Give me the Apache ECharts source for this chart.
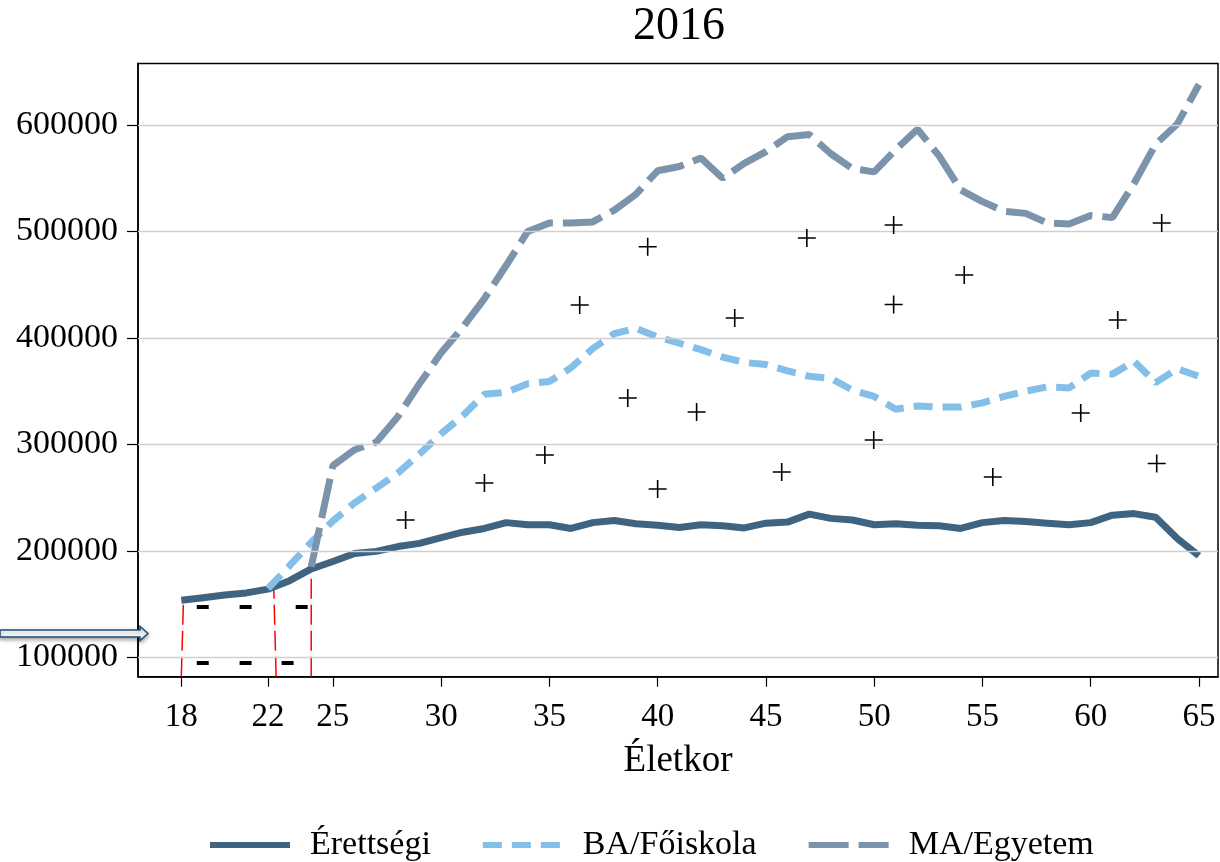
<!DOCTYPE html>
<html>
<head>
<meta charset="utf-8">
<script src="https://cdn.jsdelivr.net/npm/echarts@6/dist/echarts.min.js"></script>
<style>
html,body{margin:0;padding:0;background:#fff}
#chart_container{width:1220px;height:862px}
</style>
</head>
<body>
<div id="chart_container"></div>
<script>
// életkor 18..65
var ages = [18,19,20,21,22,23,24,25,26,27,28,29,30,31,32,33,34,35,36,37,38,39,40,41,
            42,43,44,45,46,47,48,49,50,51,52,53,54,55,56,57,58,59,60,61,62,63,64,65];

var erettsegi = [153500,156000,158500,160500,164000,172000,183000,190000,197500,199500,204000,207000,
                 212500,217500,221000,226500,224500,224500,221000,226500,228500,225500,224000,222000,
                 224500,223500,221500,226000,227000,234500,230500,229000,224500,225500,224000,223500,
                 221000,226500,228500,227500,226000,224500,226500,233500,235000,231500,211500,195500];

var foiskola = [null,null,null,null,164500,186000,208000,228000,245000,259000,273000,291000,
                310000,327000,347000,349000,357000,359000,372000,390000,404000,409000,401000,395000,
                389000,382000,377000,375000,369000,364000,362000,351000,345000,333000,336000,335000,
                335000,339000,345000,350000,354000,353000,367000,366000,378000,358000,371000,364000];

var egyetem = [null,null,null,null,null,null,185000,280000,295000,302000,326000,357000,
               386000,410000,437000,468000,500000,508000,508000,509000,520000,535000,557000,561000,
               569000,550000,564000,575000,589000,591000,573000,559000,556000,577000,596000,571000,
               539000,528000,519000,517000,508000,507000,515000,513000,545000,582000,601000,638000];

// + jelek
var plusAge = [28.36,32.0,34.79,36.4,38.62,39.54,40.0,41.8,43.56,45.73,46.89,49.98,50.9,50.9,
               54.16,55.48,59.54,61.25,63.05,63.28];
var plusVal = [229000,263700,290000,430900,343600,485700,258100,330400,418700,274100,493900,304100,
               506100,431400,459100,269400,329500,416800,282000,508000];

// fekete kis vonalkák
var dashAge = [18.99,20.97,23.56,18.99,20.97,22.91];
var dashVal = [147250,147250,147250,94650,94650,94650];

// piros függőleges segédvonalak
var dropBottomAge = [18.0,22.38,24.0];
var dropTopAge = [18.1,22.27,24.0];
var dropTopVal = [153500,165000,180000];

var xTicks = [18,22,25,30,35,40,45,50,55,60,65];
var yTicks = [100000,200000,300000,400000,500000,600000];
var yMin = 81780, yMax = 657770;

var FONT = "'Liberation Serif', 'Times New Roman', serif";

function pairs(vals){
	var out = [];
	for (var i = 0; i < ages.length; i++) {
		if (vals[i] != null) out.push([ages[i], vals[i]]);
	}
	return out;
}

function zip(a, b){
	var out = [];
	for (var i = 0; i < a.length; i++) out.push([a[i], b[i]]);
	return out;
}

var chart = echarts.init(document.getElementById('chart_container'));

var series = [];

// rácsvonalak
series.push({
	type: 'line',
	data: [],
	z: 1,
	silent: true,
	markLine: {
		silent: true,
		symbol: ['none','none'],
		label: {show: false},
		lineStyle: {color: '#d0d0d0', type: 'solid', width: 1.3},
		data: yTicks.map(function(v){ return {yAxis: v}; })
	}
});

for (var i = 0; i < dropTopVal.length; i++) {
	series.push({
		type: 'line',
		silent: true,
		symbol: 'none',
		z: 3,
		lineStyle: {color: '#ff0000', width: 1.5, type: [20, 6]},
		data: [[dropBottomAge[i], yMin], [dropTopAge[i], dropTopVal[i]]]
	});
}

series.push({
	name: 'Érettségi',
	type: 'line',
	symbol: 'none',
	z: 4,
	lineStyle: {color: '#3f6481', width: 7, type: 'solid'},
	itemStyle: {color: '#3f6481'},
	data: pairs(erettsegi)
});
series.push({
	name: 'BA/Főiskola',
	type: 'line',
	symbol: 'none',
	z: 4,
	lineStyle: {color: '#84bfe9', width: 7, type: [19, 10]},
	itemStyle: {color: '#84bfe9'},
	data: pairs(foiskola)
});
series.push({
	name: 'MA/Egyetem',
	type: 'line',
	symbol: 'none',
	z: 4,
	lineStyle: {color: '#7b93ab', width: 7, type: [40, 10]},
	itemStyle: {color: '#7b93ab'},
	data: pairs(egyetem)
});

series.push({
	type: 'scatter',
	silent: true,
	z: 5,
	symbol: 'path://M0,10H20M10,0V20',
	symbolSize: 18,
	itemStyle: {color: 'none', borderColor: '#000', borderWidth: 1.6, opacity: 1},
	data: zip(plusAge, plusVal)
});
series.push({
	type: 'scatter',
	silent: true,
	z: 5,
	symbol: 'rect',
	symbolSize: [12, 4],
	itemStyle: {color: '#000', opacity: 1},
	data: zip(dashAge, dashVal)
});

var option = {
	animation: false,
	backgroundColor: '#fff',
	title: {
		text: '2016',
		left: 633,
		top: 4,
		padding: 0,
		textStyle: {fontFamily: FONT, fontSize: 46, fontWeight: 'normal', color: '#000'}
	},
	legend: {
		data: ['Érettségi', 'BA/Főiskola', 'MA/Egyetem'],
		left: 207,
		top: 828,
		padding: 0,
		itemWidth: 80,
		itemHeight: 14,
		itemGap: 49,
		lineStyle: {width: 6},
		itemStyle: {opacity: 0},
		textStyle: {fontFamily: FONT, fontSize: 34, color: '#000', padding: [0, 0, 0, 15]}
	},
	grid: {
		left: 138, right: 2, top: 63.5, bottom: 185.3,
		show: true, borderColor: '#000', borderWidth: 1.5
	},
	xAxis: {
		type: 'value',
		min: 16,
		max: 65.88,
		name: 'Életkor',
		nameLocation: 'middle',
		nameGap: 66,
		nameTextStyle: {fontFamily: FONT, fontSize: 37, color: '#000'},
		axisLine: {onZero: false, lineStyle: {color: '#000', width: 1.5}},
		axisTick: {customValues: xTicks, length: 10, lineStyle: {color: '#000', width: 1.2}},
		axisLabel: {customValues: xTicks, fontFamily: FONT, fontSize: 33, color: '#000', margin: 24},
		splitLine: {show: false}
	},
	yAxis: {
		type: 'value',
		min: yMin,
		max: yMax,
		axisLine: {show: true, lineStyle: {color: '#000', width: 1.5}},
		axisTick: {show: true, customValues: yTicks, length: 11, lineStyle: {color: '#000', width: 1.2}},
		axisLabel: {customValues: yTicks, fontFamily: FONT, fontSize: 34, color: '#000', margin: 20,
		            formatter: function(v){ return String(v); }},
		splitLine: {show: false}
	},
	graphic: [{
		type: 'polygon',
		z: 100,
		shape: {points: [[0,630],[140,630],[140,626.5],[148,633.5],[140,640.5],[140,637],[0,637]]},
		style: {fill: '#fff', stroke: '#1f4e79', lineWidth: 1.5,
		        shadowBlur: 4, shadowColor: 'rgba(0,0,0,0.35)', shadowOffsetY: 2}
	}],
	series: series
};

chart.setOption(option);
</script>
</body>
</html>
